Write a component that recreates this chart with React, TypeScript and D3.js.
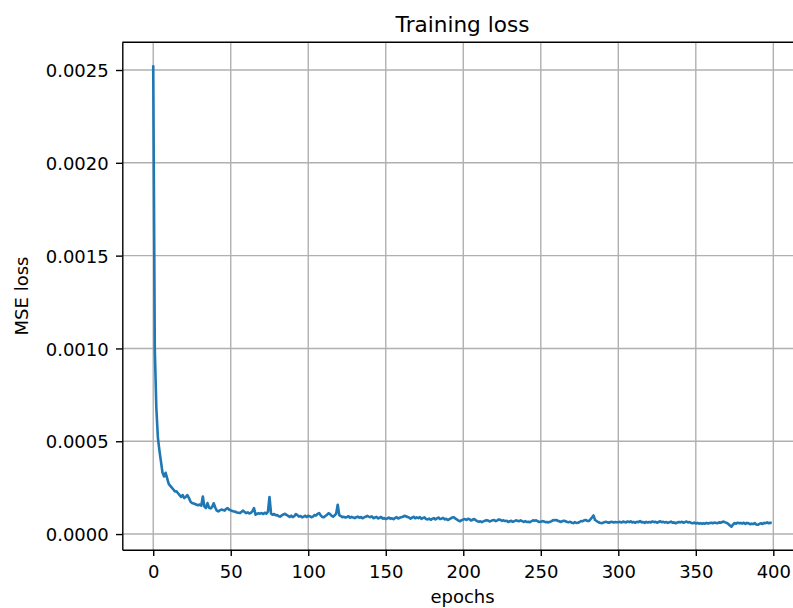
import React, { useEffect, useRef } from "react";
import * as d3 from "d3";

// MSE loss per epoch, in units of 1e-5
const lossE5 = [
  252.5, 100, 68, 52, 45, 39, 33, 31, 33, 30, 27, 26, 25, 24, 23, 23, 22, 21, 20, 21,
  19.4, 20.0, 21.0, 19.5, 17.5, 16.7, 16.5, 16.2, 15.8, 15.5, 15.9, 15.3, 20.2, 14.8, 14.0, 16.7, 14.2, 13.8, 14.6, 16.6,
  14.3, 12.6, 12.2, 12.8, 13.2, 13.0, 12.6, 13.6, 14.0, 13.1, 12.8, 12.4, 12.2, 12.0, 11.6, 11.5, 11.3, 12.0, 12.6, 11.8,
  11.3, 11.7, 11.1, 11.4, 12.4, 14.0, 10.4, 10.9, 11.2, 11.0, 11.3, 10.8, 11.5, 11.0, 12.0, 20.0, 11.0, 10.4, 10.8, 10.1,
  10.2, 9.6, 9.4, 10.1, 10.6, 10.9, 10.3, 9.8, 9.2, 9.9, 9.1, 9.6, 10.8, 10.2, 9.4, 9.7, 9.0, 9.3, 9.9, 9.2,
  9.8, 9.6, 9.1, 9.4, 10.2, 10.0, 10.9, 11.3, 10.1, 9.2, 9.0, 9.7, 10.3, 11.2, 10.8, 9.9, 9.4, 10.0, 11.0, 15.8,
  10.2, 9.7, 9.1, 9.3, 8.9, 9.2, 9.6, 8.8, 9.3, 8.9, 8.6, 9.1, 9.4, 8.8, 9.2, 8.5, 9.0, 9.3, 9.8, 9.4,
  9.1, 9.5, 8.5, 8.9, 9.3, 8.4, 8.8, 9.2, 8.3, 8.6, 8.1, 8.4, 8.9, 8.2, 8.5, 8.0, 8.7, 9.1, 8.4, 8.8,
  9.0, 9.3, 9.8, 9.6, 9.2, 8.9, 8.3, 8.8, 9.3, 8.5, 9.0, 8.6, 9.1, 8.2, 8.7, 9.0, 8.1, 7.9, 8.3, 7.7,
  8.2, 8.6, 7.9, 8.4, 8.9, 8.1, 8.3, 8.7, 7.9, 8.2, 7.6, 8.0, 8.5, 8.9, 9.0, 8.3, 7.8, 7.2, 6.9, 7.5,
  7.8, 8.1, 7.6, 8.2, 8.0, 7.3, 7.7, 8.1, 7.5, 7.0, 6.6, 6.9, 6.4, 6.8, 7.2, 7.5, 7.3, 6.8, 7.1, 7.4,
  7.5, 7.0, 7.4, 7.9, 7.6, 7.1, 7.4, 7.0, 7.2, 6.5, 6.9, 7.1, 6.6, 7.0, 7.4, 7.1, 6.9, 7.4, 7.0, 6.5,
  7.0, 6.5, 6.6, 6.4, 6.9, 7.4, 7.1, 7.4, 6.9, 6.5, 6.6, 7.0, 6.8, 6.4, 6.5, 6.3, 6.6, 7.0, 7.5, 7.4,
  7.6, 7.1, 6.9, 6.5, 7.0, 7.2, 6.9, 6.5, 6.4, 6.6, 6.1, 5.9, 6.4, 6.0, 6.1, 6.5, 7.0, 6.9, 7.4, 7.6,
  7.1, 7.0, 7.9, 8.9, 10.0, 7.6, 7.0, 6.5, 6.1, 5.9, 6.0, 6.4, 6.6, 6.3, 6.1, 6.5, 6.6, 6.2, 6.5, 6.4,
  6.4, 6.6, 6.2, 6.7, 6.5, 6.3, 6.8, 6.4, 6.9, 6.3, 6.5, 6.1, 6.6, 6.4, 7.0, 6.3, 6.5, 6.0, 6.6, 6.2,
  6.5, 6.3, 6.8, 6.4, 6.6, 6.1, 6.5, 6.9, 6.4, 6.6, 6.2, 6.5, 6.0, 6.4, 6.7, 6.1, 6.3, 5.8, 6.2, 6.5,
  6.3, 6.6, 6.1, 6.4, 6.8, 6.2, 6.5, 6.0, 5.8, 6.2, 5.7, 6.0, 5.6, 5.9, 5.5, 5.8, 5.6, 6.0, 5.7, 5.9,
  6.1, 5.8, 6.2, 6.0, 5.9, 6.3, 6.1, 6.5, 6.7, 6.3, 6.0, 5.4, 4.6, 4.0, 5.2, 5.9, 5.6, 6.1, 5.8, 6.0,
  5.7, 6.1, 5.5, 6.0, 5.8, 5.3, 5.6, 5.4, 5.9, 5.2, 5.0, 5.5, 5.8, 5.4, 6.0, 5.9, 6.3, 5.8, 6.1, 5.9,
];
const epochs = lossE5.map((_, i) => i);
const xTicks = [0, 50, 100, 150, 200, 250, 300, 350, 400];
const yTicks = [0, 0.0005, 0.001, 0.0015, 0.002, 0.0025];

const title = "Training loss";
const xLabel = "epochs";
const yLabel = "MSE loss";

const FONT = "DejaVu Sans, sans-serif";

function App() {
  const ref = useRef<SVGSVGElement>(null);

  useEffect(() => {
    const width = 793, height = 608;
    // axes box (right edge runs past the picture, as in the original)
    const box = { left: 122.3, right: 802.7, top: 42.3, bottom: 549.7 };

    const data = epochs.map((e, i) => ({ epoch: e, loss: lossE5[i] * 1e-5 }));

    const svg = d3.select(ref.current);
    svg.selectAll("*").remove();

    // 5% margins like matplotlib autoscale
    const [x0, x1] = d3.extent(data, d => d.epoch) as [number, number];
    const [y0, y1] = d3.extent(data, d => d.loss) as [number, number];
    const xPad = (x1 - x0) * 0.05, yPad = (y1 - y0) * 0.05;

    const x = d3.scaleLinear().domain([x0 - xPad, x1 + xPad]).range([box.left, box.right]);
    const y = d3.scaleLinear().domain([y0 - yPad, y1 + yPad]).range([box.bottom, box.top]);

    svg.append("rect").attr("width", width).attr("height", height).attr("fill", "white");

    // grid
    const grid = svg.append("g").attr("stroke", "#b0b0b0").attr("stroke-width", 1.4);
    grid.selectAll(".gx").data(xTicks).join("line")
      .attr("x1", d => x(d)).attr("x2", d => x(d))
      .attr("y1", box.top).attr("y2", box.bottom);
    grid.selectAll(".gy").data(yTicks).join("line")
      .attr("x1", box.left).attr("x2", box.right)
      .attr("y1", d => y(d)).attr("y2", d => y(d));

    // loss curve
    const line = d3.line<{ epoch: number; loss: number }>()
      .x(d => x(d.epoch))
      .y(d => y(d.loss));
    svg.append("path")
      .datum(data)
      .attr("d", line)
      .attr("fill", "none")
      .attr("stroke", "#1f77b4")
      .attr("stroke-width", 2.6)
      .attr("stroke-linejoin", "round");

    // X axis
    const gx = svg.append("g")
      .attr("transform", "translate(0," + box.bottom + ")")
      .call(d3.axisBottom(x).tickValues(xTicks).tickFormat(d3.format("d")).tickSize(6.3).tickSizeOuter(0));
    gx.selectAll("text").attr("y", 28.3).attr("dy", null);

    // Y axis
    const gy = svg.append("g")
      .attr("transform", "translate(" + box.left + ",0)")
      .call(d3.axisLeft(y).tickValues(yTicks).tickFormat(d3.format(".4f")).tickSize(6.3).tickSizeOuter(0));
    gy.selectAll("text").attr("x", -13.6).attr("dy", "0.365em");

    [gx, gy].forEach(g => {
      g.attr("font-family", FONT).attr("font-size", 18);
      g.selectAll("text").attr("fill", "black");
      g.selectAll("line").attr("stroke", "black").attr("stroke-width", 1.4);
      g.select(".domain").attr("stroke", "black").attr("stroke-width", 1.4);
    });

    // top spine
    svg.append("line")
      .attr("x1", box.left).attr("x2", box.right)
      .attr("y1", box.top).attr("y2", box.top)
      .attr("stroke", "black").attr("stroke-width", 1.4);

    // title and labels
    svg.append("text")
      .attr("x", (box.left + box.right) / 2).attr("y", 31.5)
      .attr("text-anchor", "middle")
      .attr("font-family", FONT).attr("font-size", 21.6)
      .text(title);

    svg.append("text")
      .attr("x", (box.left + box.right) / 2).attr("y", 602.5)
      .attr("text-anchor", "middle")
      .attr("font-family", FONT).attr("font-size", 18)
      .text(xLabel);

    svg.append("text")
      .attr("transform", "translate(27.5," + (box.top + box.bottom) / 2 + ") rotate(-90)")
      .attr("text-anchor", "middle")
      .attr("font-family", FONT).attr("font-size", 18)
      .text(yLabel);
  }, []);

  return (
    <svg
      ref={ref}
      width={793}
      height={608}
      style={{ position: "absolute", left: 0, top: 0, display: "block" }}
    />
  );
}

export default App;
